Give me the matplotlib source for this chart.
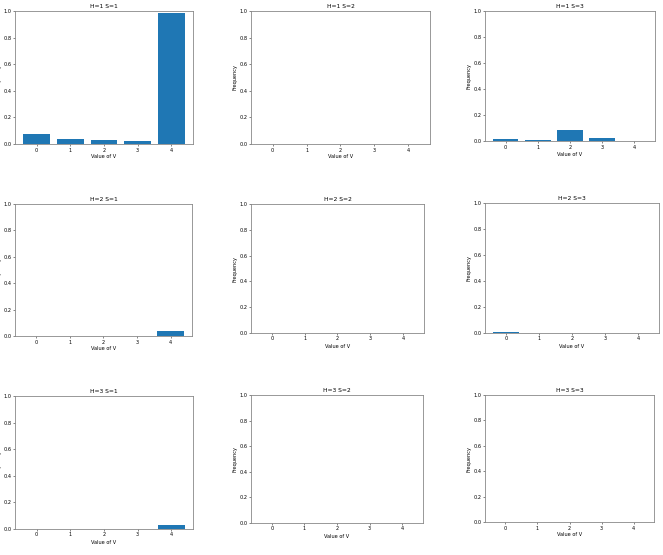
import matplotlib
matplotlib.use("Agg")
import matplotlib.pyplot as plt
import numpy as np

values_v = [0, 1, 2, 3, 4]
h_levels = [1, 2, 3]
s_levels = [1, 2, 3]

# frequency of each value of V, one list per (H, S) panel
freq_h1_s1 = [0.078, 0.038, 0.028, 0.023, 0.987]
freq_h1_s2 = [0.0, 0.0, 0.0, 0.0, 0.0]
freq_h1_s3 = [0.015, 0.005, 0.085, 0.020, 0.0]
freq_h2_s1 = [0.0, 0.002, 0.0, 0.0, 0.037]
freq_h2_s2 = [0.0, 0.0, 0.0, 0.0, 0.0]
freq_h2_s3 = [0.005, 0.0, 0.0, 0.0, 0.0]
freq_h3_s1 = [0.0, 0.0, 0.0, 0.002, 0.030]
freq_h3_s2 = [0.0, 0.0, 0.0, 0.0, 0.0]
freq_h3_s3 = [0.003, 0.0, 0.0, 0.0, 0.0]

freqs = [
    [freq_h1_s1, freq_h1_s2, freq_h1_s3],
    [freq_h2_s1, freq_h2_s2, freq_h2_s3],
    [freq_h3_s1, freq_h3_s2, freq_h3_s3],
]

W, H = 663, 555

# axes boxes in pixels: left, top, right, bottom
boxes = [
    [(15, 11, 193, 144), (251, 11, 430, 144), (485, 11, 655, 141)],
    [(15, 204, 192, 336), (251, 204, 424, 333), (485, 203, 659, 333)],
    [(15, 396, 193, 529), (251, 395, 423, 523), (485, 395, 654, 522)],
]

scale = 0.36


def main():
    fig = plt.figure(figsize=(W / 100, H / 100), dpi=100)
    for i, h in enumerate(h_levels):
        for j, s in enumerate(s_levels):
            l, t, r, b = boxes[i][j]
            ax = fig.add_axes([l / W, 1 - b / H, (r - l) / W, (b - t) / H])
            draw_panel(ax, freqs[i][j], f"H={h} S={s}")
    fig.savefig("out.png", dpi=100)


def draw_panel(ax, freq, title):
    ax.bar(values_v, freq, color="#1f77b4", width=0.8)
    ax.set_ylim(0, 1.0)
    ax.set_yticks(np.arange(0, 1.01, 0.2))
    ax.set_xticks(values_v)
    ax.set_title(title, fontsize=12 * scale, pad=6 * scale)
    ax.set_xlabel("Value of V", fontsize=10 * scale, labelpad=4 * scale)
    ax.set_ylabel("Frequency", fontsize=10 * scale, labelpad=4 * scale)
    ax.tick_params(labelsize=10 * scale, length=3.5 * scale, width=0.5,
                   pad=3.5 * scale, color="#555")
    for key in ax.spines:
        ax.spines[key].set_linewidth(0.6)
        ax.spines[key].set_color("#888")


main()
